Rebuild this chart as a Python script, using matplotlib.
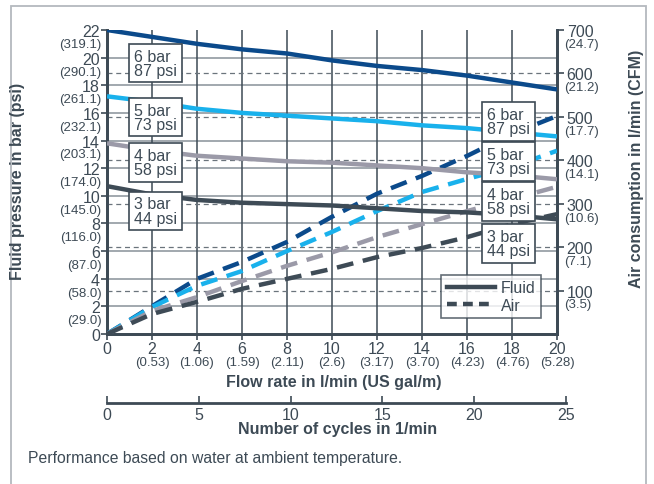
import matplotlib
matplotlib.use("Agg")
import matplotlib.pyplot as plt
from matplotlib.lines import Line2D
from matplotlib.patches import Rectangle

plt.rcParams['font.family'] = ['Liberation Sans', 'DejaVu Sans']

TXT = '#3d4a55'
GRID_H = '#9aa1a8'

# ---------------- data ----------------
flow = [0, 2, 4, 6, 8, 10, 12, 14, 16, 18, 20]
flow_gal = ['', '(0.53)', '(1.06)', '(1.59)', '(2.11)', '(2.6)', '(3.17)', '(3.70)', '(4.23)', '(4.76)', '(5.28)']

bar_ticks = [0, 2, 4, 6, 8, 10, 12, 14, 16, 18, 20, 22]
psi_labels = ['', '(29.0)', '(58.0)', '(87.0)', '(116.0)', '(145.0)', '(174.0)', '(203.1)',
              '(232.1)', '(261.1)', '(290.1)', '(319.1)']

air_ticks = [100, 200, 300, 400, 500, 600, 700]
cfm_labels = ['(3.5)', '(7.1)', '(10.6)', '(14.1)', '(17.7)', '(21.2)', '(24.7)']

cycles_ticks = [0, 5, 10, 15, 20, 25]

series_names = ['6 bar\n87 psi', '5 bar\n73 psi', '4 bar\n58 psi', '3 bar\n44 psi']
series_colors = ['#0b4a8b', '#19b1ec', '#9b9aa8', '#3e4b56']

fluid_6 = [22.0, 21.5, 21.0, 20.6, 20.3, 19.8, 19.4, 19.1, 18.7, 18.2, 17.7]
fluid_5 = [17.2, 16.8, 16.3, 16.0, 15.8, 15.6, 15.4, 15.1, 14.9, 14.6, 14.3]
fluid_4 = [13.8, 13.3, 12.9, 12.7, 12.5, 12.4, 12.2, 12.0, 11.7, 11.5, 11.2]
fluid_3 = [10.7, 10.1, 9.7, 9.5, 9.4, 9.3, 9.1, 8.9, 8.8, 8.6, 8.3]

air_6 = [0, 64, 127, 166, 212, 270, 323, 364, 410, 461, 502]
air_5 = [0, 62, 111, 145, 191, 235, 283, 327, 357, 385, 422]
air_4 = [0, 53, 85, 122, 157, 188, 223, 253, 283, 311, 339]
air_3 = [0, 46, 74, 104, 127, 150, 177, 198, 223, 253, 276]

fluid = [fluid_6, fluid_5, fluid_4, fluid_3]
air = [air_6, air_5, air_4, air_3]

# ---------------- figure ----------------
W, H = 654, 485
fig = plt.figure(figsize=(W / 100, H / 100), dpi=100)

def fx(px):
    return px / W

def fy(py):
    return 1 - py / H

# outer frame
fig.patches.append(Rectangle((fx(10.5), fy(490)), fx(645.5) - fx(10.5), fy(6.5) - fy(490),
                             transform=fig.transFigure, fill=False, edgecolor='#b4b9be', lw=1.3))

x0, x1, yb, yt = 107, 557, 335, 31
ax = fig.add_axes([fx(x0), fy(yb), fx(x1) - fx(x0), fy(yt) - fy(yb)])
ax.set_xlim(0, 20)
ax.set_ylim(0, 22)
ax.set_facecolor('none')
ax2 = ax.twinx()
ax2.set_ylim(0, 700)

# grid (bottom layer, on ax)
for v in bar_ticks[1:-1]:
    ax.axhline(v, color=GRID_H, lw=1.3, zorder=1)
for v in flow[1:-1]:
    ax.axvline(v, color=TXT, lw=1.1, zorder=1)
# dashed grid at air ticks (on ax2)
for v in air_ticks[:-1]:
    ax2.axhline(v, color='#6b747c', lw=0.9, ls=(0, (4, 3)), zorder=1)

# spines
for a in (ax, ax2):
    a.spines['top'].set_visible(False)
    for s in ('left', 'right', 'bottom'):
        a.spines[s].set_color(TXT)
        a.spines[s].set_linewidth(2)

# air curves (right scale)
for a_, c in zip(air, series_colors):
    ax2.plot(flow, a_, color=c, lw=3.2, ls=(0, (3.8, 2.2)), zorder=3)
# fluid curves (left scale) drawn in the top axes using the left scale's transform
for f, c in zip(fluid, series_colors):
    ax2.plot(flow, f, color=c, lw=3.2, solid_capstyle='butt', zorder=3, transform=ax.transData)

# ticks
ax.set_xticks(flow)
ax.set_xticklabels([str(v) for v in flow], fontsize=11.5, color=TXT)
ax.set_yticks(bar_ticks)
ax.set_yticklabels([str(v) for v in bar_ticks], fontsize=11.5, color=TXT)
ax.tick_params(axis='both', direction='out', length=4, width=1.2, color=TXT, pad=1)
ax2.set_yticks(air_ticks)
ax2.set_yticklabels([str(v) for v in air_ticks], fontsize=11.5, color=TXT)
ax2.tick_params(axis='y', direction='out', length=5, width=1.2, color=TXT, pad=2)

# secondary (unit) labels
for v, lab in zip(bar_ticks, psi_labels):
    if lab:
        ax.annotate(lab, (0, v), xycoords=('axes fraction', 'data'), xytext=(-4, -10),
                    textcoords='offset points', ha='right', va='center', fontsize=9.5, color=TXT)
for v, lab in zip(air_ticks, cfm_labels):
    ax2.annotate(lab, (1, v), xycoords=('axes fraction', 'data'), xytext=(5, -10),
                 textcoords='offset points', ha='left', va='center', fontsize=9.5, color=TXT)
for v, lab in zip(flow, flow_gal):
    if lab:
        ax.annotate(lab, (v, 0), xycoords=('data', 'axes fraction'), xytext=(0, -20.5),
                    textcoords='offset points', ha='center', va='center', fontsize=9.5, color=TXT)

# axis titles
fig.text(fx(18), fy(181), 'Fluid pressure in bar (psi)', rotation=90, ha='center', va='center',
         fontsize=11.5, fontweight='bold', color=TXT)
fig.text(fx(637), fy(169), 'Air consumption in l/min (CFM)', rotation=90, ha='center', va='center',
         fontsize=11.5, fontweight='bold', color=TXT)
fig.text(fx(334), fy(383), 'Flow rate in l/min (US gal/m)', ha='center', va='center',
         fontsize=11.5, fontweight='bold', color=TXT)

# series label boxes (top layer)
box = dict(boxstyle='square,pad=0.3', fc='white', ec=TXT, lw=1.2)
left_y = [19.6, 15.7, 12.4, 8.9]
right_y = [490, 397, 305, 208]
for name, yl, yr in zip(series_names, left_y, right_y):
    ax2.text(1.2, yl, name, ha='left', va='center', fontsize=11.5, color=TXT, bbox=box,
             linespacing=0.92, zorder=5, transform=ax.transData)
    ax2.text(16.9, yr, name, ha='left', va='center', fontsize=11.5, color=TXT, bbox=box,
             linespacing=0.92, zorder=5)

# legend
handles = [Line2D([], [], color=TXT, lw=3.2),
           Line2D([], [], color=TXT, lw=3.2, ls=(0, (2.2, 1.4)))]
leg = ax2.legend(handles, ['Fluid', 'Air'], loc='lower right', bbox_to_anchor=(0.965, 0.052),
                 frameon=True, fancybox=False, fontsize=11.5, handlelength=3.0,
                 handletextpad=0.4, borderpad=0.35, labelspacing=0.15, borderaxespad=0)
leg.get_frame().set_edgecolor(TXT)
leg.get_frame().set_linewidth(1.2)
for t in leg.get_texts():
    t.set_color(TXT)
leg.set_zorder(6)

# cycles axis
cx0, cx1, cy = 107, 566, 404
axc = fig.add_axes([fx(cx0), fy(cy), fx(cx1) - fx(cx0), 0.001])
axc.set_xlim(0, 25)
axc.set_yticks([])
for s in ('left', 'right', 'top'):
    axc.spines[s].set_visible(False)
axc.spines['bottom'].set_color(TXT)
axc.spines['bottom'].set_linewidth(2)
axc.set_xticks(cycles_ticks)
axc.set_xticklabels([str(v) for v in cycles_ticks], fontsize=11.5, color=TXT)
axc.tick_params(axis='x', direction='in', length=5, width=1.2, color=TXT, pad=3)
axc.patch.set_visible(False)
fig.text(fx(338), fy(430), 'Number of cycles in 1/min', ha='center', va='center',
         fontsize=11.5, fontweight='bold', color=TXT)

fig.text(fx(28), fy(459), 'Performance based on water at ambient temperature.', ha='left',
         va='center', fontsize=11.3, color=TXT)

fig.savefig('out.png', dpi=100)
